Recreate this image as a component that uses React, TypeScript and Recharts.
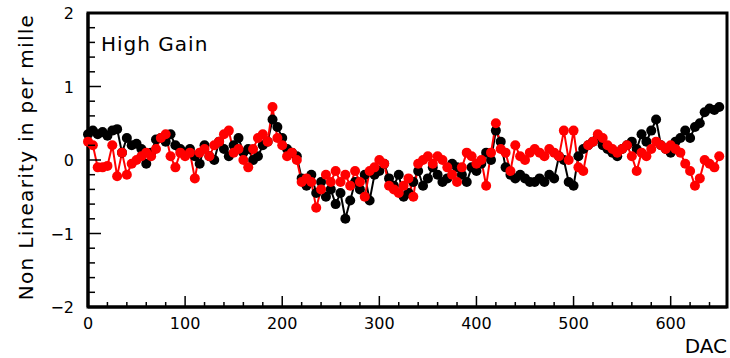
import React from 'react';
import { ComposedChart, Line, XAxis, YAxis, ReferenceArea } from 'recharts';

// DAC steps, every 5 counts
const dac = Array.from({ length: 131 }, (_, i) => i * 5);

const blackValues = [
    0.35, 0.40, 0.35, 0.38, 0.33, 0.40, 0.42, 0.10, 0.30, 0.20,
    0.22, 0.15, -0.05, 0.10, 0.28, 0.30, 0.25, 0.35, 0.20, 0.15,
    0.10, 0.15, 0.05, -0.05, 0.20, 0.05, 0.00, 0.25, 0.15, 0.05,
    0.20, 0.30, 0.10, 0.15, 0.00, 0.05, 0.20, 0.25, 0.55, 0.45,
    0.30, 0.15, 0.10, 0.05, -0.25, -0.35, -0.20, -0.45, -0.30, -0.50,
    -0.40, -0.60, -0.45, -0.80, -0.55, -0.30, -0.40, -0.20, -0.55, -0.20,
    -0.15, -0.05, -0.25, -0.35, -0.20, -0.50, -0.45, -0.30, -0.15, -0.35,
    -0.25, -0.10, -0.20, -0.30, -0.25, -0.05, -0.10, -0.20, -0.30, -0.10,
    -0.15, -0.05, 0.10, 0.00, 0.40, 0.25, -0.10, -0.20, -0.25, -0.20,
    -0.25, -0.30, -0.30, -0.25, -0.30, -0.20, -0.25, 0.05, 0.00, -0.30,
    -0.35, 0.05, 0.15, 0.20, 0.25, 0.30, 0.20, 0.15, 0.10, 0.05,
    0.15, 0.20, 0.25, 0.15, 0.35, 0.25, 0.40, 0.55, 0.20, 0.15,
    0.10, 0.25, 0.30, 0.40, 0.30, 0.45, 0.50, 0.65, 0.70, 0.68,
    0.72,
];

const redValues = [
    0.25, 0.20, -0.10, -0.10, -0.08, 0.20, -0.22, 0.10, -0.20, -0.05,
    0.00, 0.05, 0.10, 0.05, 0.15, 0.30, 0.35, 0.05, -0.10, 0.10,
    0.05, 0.10, -0.25, 0.10, 0.15, 0.05, 0.20, 0.25, 0.35, 0.40,
    0.10, 0.15, 0.00, -0.10, 0.15, 0.30, 0.35, 0.25, 0.72, 0.30,
    0.20, 0.05, 0.10, 0.00, -0.30, -0.25, -0.30, -0.65, -0.40, -0.20,
    -0.30, -0.15, -0.30, -0.20, -0.35, -0.15, -0.30, -0.50, -0.15, -0.10,
    0.00, -0.05, -0.35, -0.40, -0.45, -0.35, -0.25, -0.50, -0.05, 0.00,
    0.05, -0.05, 0.05, 0.00, -0.10, -0.20, -0.30, -0.10, 0.10, 0.05,
    -0.05, 0.00, -0.35, 0.10, 0.50, 0.15, 0.10, -0.15, 0.20, 0.05,
    0.00, 0.10, 0.15, 0.10, 0.05, 0.15, 0.10, 0.05, 0.40, 0.00,
    0.40, -0.10, -0.15, 0.20, 0.25, 0.35, 0.30, 0.20, 0.15, 0.10,
    0.15, 0.20, 0.05, -0.15, 0.10, 0.05, 0.15, 0.25, 0.20, 0.15,
    0.20, 0.15, 0.10, -0.05, -0.15, -0.35, -0.25, 0.00, -0.05, -0.10,
    0.05,
];

const xTicks = Array.from({ length: 33 }, (_, i) => i * 20);
const yTicks = Array.from({ length: 21 }, (_, i) => Math.round((-2 + i * 0.2) * 10) / 10);

const data = dac.map((d, i) => ({ dac: d, black: blackValues[i], red: redValues[i] }));

const FONT = '"DejaVu Sans", sans-serif';

const XTick = ({ x, y, payload }: any) => {
    const v = payload.value;
    const major = v % 100 === 0;
    return (
        <g>
            <line x1={x} x2={x} y1={y} y2={y - (major ? 11 : 5)} stroke="#000" strokeWidth={1.5} />
            {major && (
                <text x={x} y={y + 22} textAnchor="middle" fontSize={16} fontFamily={FONT} fill="#000">
                    {v}
                </text>
            )}
        </g>
    );
};

const YTick = ({ x, y, payload }: any) => {
    const v = payload.value;
    const major = Math.abs(v - Math.round(v)) < 1e-6;
    const label = v < 0 ? `\u2212${Math.abs(Math.round(v))}` : `${Math.round(v)}`;
    return (
        <g>
            <line x1={x} x2={x + (major ? 13 : 7)} y1={y} y2={y} stroke="#000" strokeWidth={1.5} />
            {major && (
                <text x={x - 14} y={y + 6} textAnchor="end" fontSize={16} fontFamily={FONT} fill="#000">
                    {label}
                </text>
            )}
        </g>
    );
};

const makeDot = (color: string) => (p: any) => (
    <circle key={`${color}-${p.index}`} cx={p.cx} cy={p.cy} r={5} fill={color} stroke="none" />
);

const App = () => {
    return (
        <div style={{ position: 'absolute', left: 0, top: 0, width: 730, height: 358, background: '#fff' }}>
            <ComposedChart width={730} height={358} data={data} margin={{ top: 13, right: 3, bottom: 0, left: 0 }}>
                <XAxis
                    dataKey="dac"
                    type="number"
                    domain={[0, 658]}
                    ticks={xTicks}
                    interval={0}
                    height={51}
                    tickSize={0}
                    tickMargin={0}
                    tickLine={false}
                    axisLine={{ stroke: '#000', strokeWidth: 3 }}
                    tick={<XTick />}
                />
                <YAxis
                    type="number"
                    domain={[-2, 2]}
                    ticks={yTicks}
                    interval={0}
                    width={88}
                    tickSize={0}
                    tickMargin={0}
                    tickLine={false}
                    axisLine={{ stroke: '#000', strokeWidth: 3 }}
                    tick={<YTick />}
                />
                <ReferenceArea x1={0} x2={658} y1={-2} y2={2} fill="none" stroke="#000" strokeWidth={3} ifOverflow="visible" />
                <Line
                    dataKey="black"
                    type="linear"
                    stroke="#000"
                    strokeWidth={2}
                    dot={makeDot('#000')}
                    isAnimationActive={false}
                />
                <Line
                    dataKey="red"
                    type="linear"
                    stroke="#ff0000"
                    strokeWidth={2}
                    dot={makeDot('#ff0000')}
                    isAnimationActive={false}
                />
            </ComposedChart>
            <div style={{ position: 'absolute', left: 101, top: 32, fontFamily: FONT, fontSize: 20, letterSpacing: 1, color: '#000', whiteSpace: 'nowrap' }}>
                High Gain
            </div>
            <div style={{ position: 'absolute', right: 3, top: 334, fontFamily: FONT, fontSize: 20, color: '#000', whiteSpace: 'nowrap' }}>
                DAC
            </div>
            <div
                style={{
                    position: 'absolute',
                    left: 26,
                    top: 157,
                    transform: 'translate(-50%, -50%) rotate(-90deg)',
                    fontFamily: FONT,
                    fontSize: 20,
                    letterSpacing: 1.3,
                    color: '#000',
                    whiteSpace: 'nowrap',
                }}
            >
                Non Linearity in per mille
            </div>
        </div>
    );
};

export default App;
